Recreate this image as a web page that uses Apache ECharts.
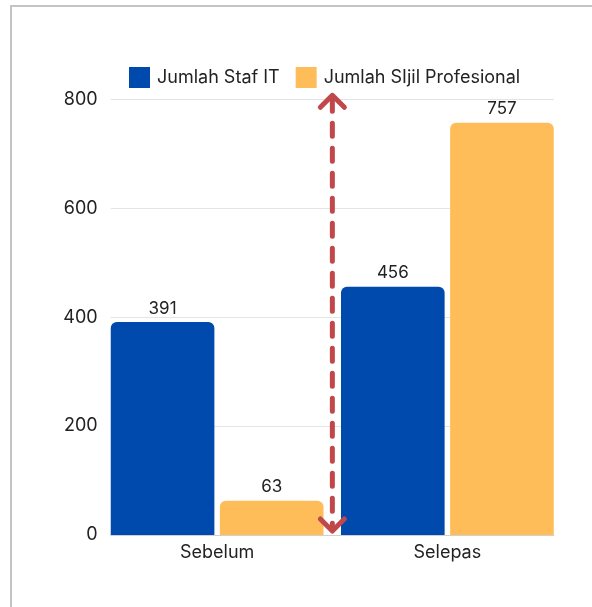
<!DOCTYPE html>
<html>
<head>
<meta charset="utf-8">
<script src="https://cdn.jsdelivr.net/npm/echarts@6/dist/echarts.min.js"></script>
<style>
html,body{margin:0;padding:0;background:#fff;}
#c{width:592px;height:607px;}
</style>
</head>
<body>
<div id="c"></div>
<script>
const categories = ['Sebelum', 'Selepas'];
const seriesNames = ['Jumlah Staf IT', 'Jumlah SIjil Profesional'];
const stafIT = [391, 456];
const sijil = [63, 757];
const yMin = 0, yMax = 800, yInterval = 200;
const arrowData = [[1, 0, 800]]; // x position between categories, from value, to value

const FONT = 'Inter';
const TXT = '#222222';
const BLUE = '#004AAD';
const ORANGE = '#FFBD59';
const RED = '#C0474A';

const chart = echarts.init(document.getElementById('c'), null, {renderer: 'canvas'});

const option = {
  animation: false,
  textStyle: {fontFamily: FONT},
  graphic: [{
    type: 'rect',
    shape: {x: 11, y: 6, width: 620, height: 640},
    style: {fill: 'none', stroke: '#c4c4c4', lineWidth: 2},
    silent: true, z: -10
  }],
  legend: {
    left: 124, top: 62,
    itemWidth: 21, itemHeight: 21, itemGap: 16,
    icon: 'rect',
    textStyle: {fontSize: 18, color: TXT, fontFamily: FONT, padding: [0, 0, 0, 2]},
    data: seriesNames
  },
  grid: [
    {left: 102, right: 29.5, top: 99.3, bottom: 72},
    {left: 110.7, right: 38, top: 99.3, bottom: 72}
  ],
  xAxis: [
    {
      type: 'category', gridIndex: 0, data: categories,
      axisLine: {show: false}, axisTick: {show: false},
      axisLabel: {fontSize: 18, color: TXT, margin: 9, fontFamily: FONT},
      splitLine: {show: false}
    },
    {
      type: 'value', gridIndex: 1, min: 0, max: 2,
      axisLine: {show: true, lineStyle: {color: '#d0d0d0', width: 1}},
      axisTick: {show: false}, axisLabel: {show: false}, splitLine: {show: false}
    }
  ],
  yAxis: [
    {type: 'value', gridIndex: 0, min: yMin, max: yMax, show: false, splitLine: {show: false}},
    {
      type: 'value', gridIndex: 1, min: yMin, max: yMax, interval: yInterval,
      axisLine: {show: false}, axisTick: {show: false},
      axisLabel: {fontSize: 18, color: TXT, margin: 13, fontFamily: FONT},
      splitLine: {show: true, lineStyle: {color: '#e4e4e4', width: 1}}
    }
  ],
  series: [
    {
      name: seriesNames[0], type: 'bar', xAxisIndex: 0, yAxisIndex: 0,
      data: stafIT, barGap: '5.3%', barCategoryGap: '7.6%',
      itemStyle: {color: BLUE, borderRadius: [6, 6, 0, 0]},
      label: {show: true, position: 'top', distance: 5, fontSize: 17, color: TXT, fontFamily: FONT}
    },
    {
      name: seriesNames[1], type: 'bar', xAxisIndex: 0, yAxisIndex: 0,
      data: sijil, barGap: '5.3%', barCategoryGap: '7.6%',
      itemStyle: {color: ORANGE, borderRadius: [6, 6, 0, 0]},
      label: {show: true, position: 'top', distance: 5, fontSize: 17, color: TXT, fontFamily: FONT}
    },
    {
      type: 'custom', xAxisIndex: 1, yAxisIndex: 1, z: 10, silent: true,
      data: arrowData,
      renderItem: function (params, api) {
        const top = api.coord([api.value(0), api.value(2)]);
        const bot = api.coord([api.value(0), api.value(1)]);
        const x = top[0];
        const tipT = top[1] - 4;
        const tipB = bot[1] - 4;
        const w = 12, h = 12;
        const st = {stroke: RED, lineWidth: 5, lineCap: 'round', lineJoin: 'round', fill: 'none'};
        return {
          type: 'group',
          children: [
            {type: 'line', shape: {x1: x, y1: tipT + 3, x2: x, y2: tipB - 3},
             style: Object.assign({}, st, {lineDash: [13, 12], lineDashOffset: 0})},
            {type: 'polyline', shape: {points: [[x - w, tipT + h], [x, tipT], [x + w, tipT + h]]}, style: st},
            {type: 'polyline', shape: {points: [[x - w, tipB - h], [x, tipB], [x + w, tipB - h]]}, style: st}
          ]
        };
      }
    }
  ]
};
chart.setOption(option);
</script>
</body>
</html>
